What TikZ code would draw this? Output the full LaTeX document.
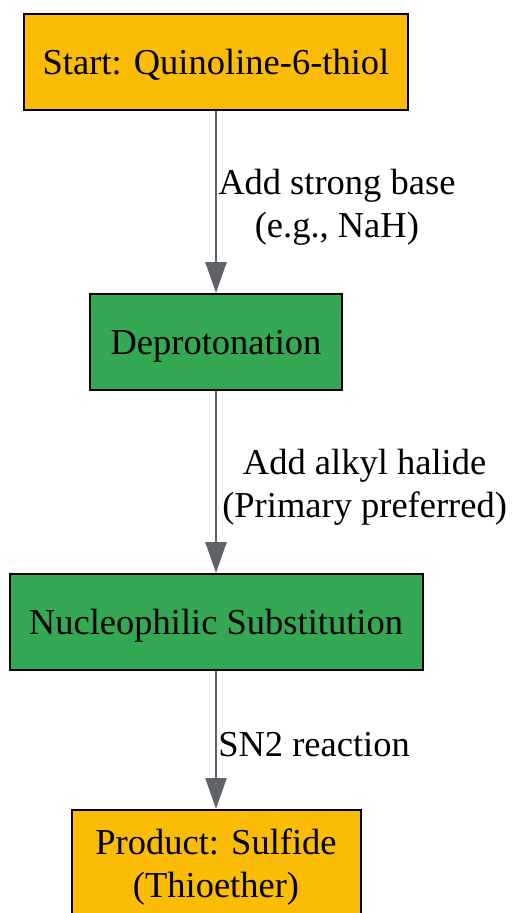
\documentclass[tikz,border=0pt]{standalone}
\usepackage{fontspec}
\setmainfont{Liberation Serif}
\usepackage{tikz}
\usetikzlibrary{arrows.meta,positioning}
\definecolor{stepyellow}{HTML}{FBBC05}
\definecolor{stepgreen}{HTML}{34A853}
\definecolor{edgegray}{HTML}{5F6368}

\begin{document}
\begin{tikzpicture}[x=1pt,y=1pt,node distance=280pt,on grid,auto,
  font=\fontsize{36.5}{43}\selectfont]
  \tikzstyle{stage}=[rectangle,draw=black,line width=2pt,text depth=0pt,
                     minimum height=96pt,inner sep=0pt,align=center]
  \tikzstyle{flow}=[draw=edgegray,line width=2.5pt,
                    -{Triangle[length=31pt,width=21pt]}]
  \tikzstyle{cond}=[inner sep=1pt,yshift=-5pt,align=center,text=black]

  \useasboundingbox (0,0) rectangle (515,-913);

  \node[stage,fill=stepyellow,minimum width=384pt] (start) at (216,-62) {Start: Quinoline-6-thiol};
  \node[stage,fill=stepgreen,minimum width=252pt] (deprot) [below=of start] {Deprotonation};
  \node[stage,fill=stepgreen,minimum width=413pt] (subst) [below=of deprot] {Nucleophilic Substitution};
  \node[stage,fill=stepyellow,minimum width=289pt,minimum height=107pt] (product) [below=241.5pt of subst] {Product: Sulfide\\(Thioether)};

  \path (start) edge[flow] node[cond] {Add strong base\\(e.g., NaH)} (deprot);
  \path (deprot) edge[flow] node[cond,xshift=4pt] {Add alkyl halide\\(Primary preferred)} (subst);
  \path (subst) edge[flow] node[cond] {SN2 reaction} (product);
\end{tikzpicture}
\end{document}
